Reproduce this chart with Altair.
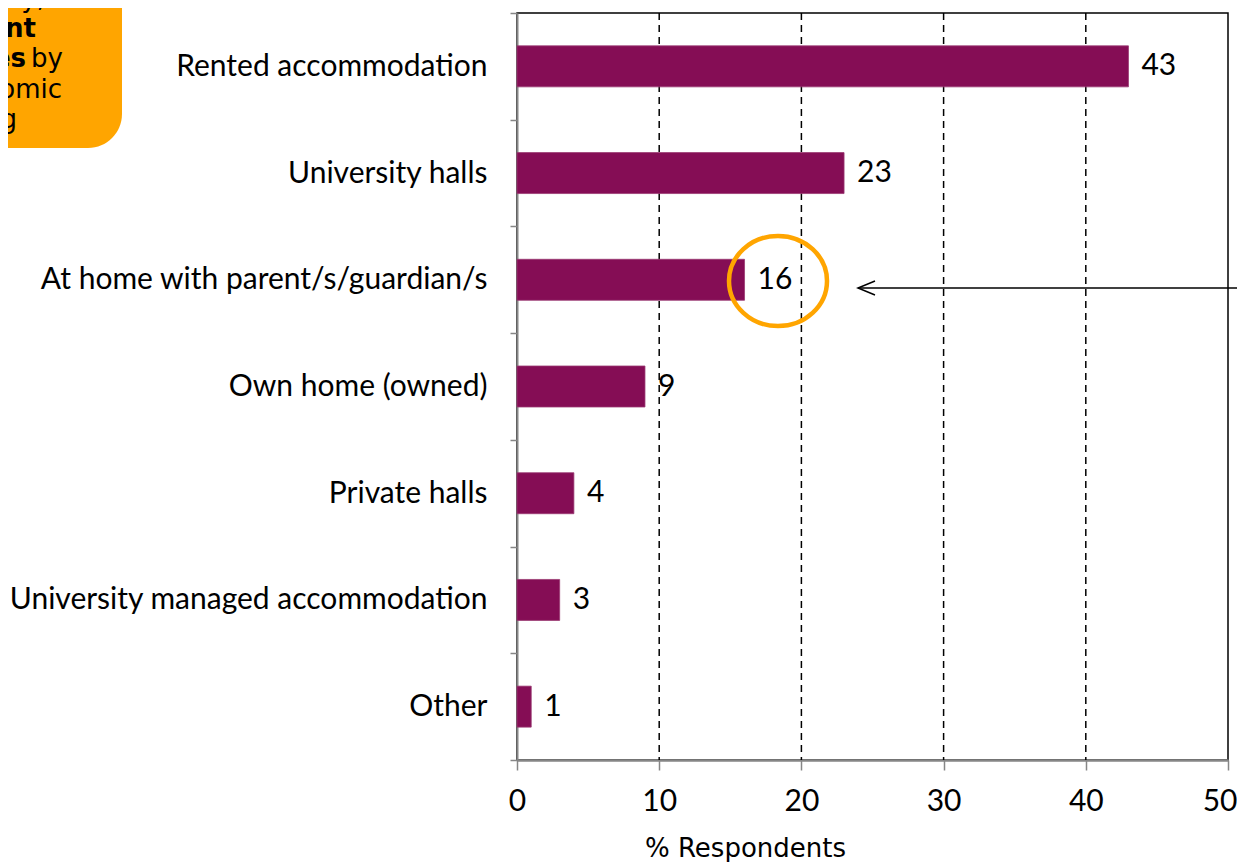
import altair as alt
import pandas as pd

categories = [
    "Rented accommodation",
    "University halls",
    "At home with parent/s/guardian/s",
    "Own home (owned)",
    "Private halls",
    "University managed accommodation",
    "Other",
]
values = [43, 23, 16, 9, 4, 3, 1]
x_ticks = [0, 10, 20, 30, 40, 50]
grid_values = [10, 20, 30, 40]

df = pd.DataFrame({"category": categories, "value": values})
grid_df = pd.DataFrame({"g": grid_values})

BAR = "#850D55"
ORANGE = "#FFA500"
LABEL_FONT = "Lato"
FS = 30

W, H = 711, 747

y_enc = alt.Y(
    "category:N",
    sort=categories,
    scale=alt.Scale(paddingInner=0, paddingOuter=0),
    axis=alt.Axis(
        title=None,
        domainColor="#868686",
        domainWidth=2,
        tickColor="#868686",
        tickWidth=1.5,
        tickSize=7,
        tickBand="extent",
        labelFont=LABEL_FONT,
        labelFontSize=FS,
        labelColor="black",
        labelLimit=700,
        labelPadding=23,
    ),
)

x_scale = alt.Scale(domain=[0, 50], nice=False)

grid = alt.Chart(grid_df).mark_rule(
    color="black", strokeWidth=1.5, strokeDash=[7, 5]
).encode(x=alt.X("g:Q", scale=x_scale))

bars = alt.Chart(df).mark_bar(
    color=BAR, height={"band": 0.384}, stroke="#9A3A72", strokeWidth=0.8
).encode(
    x=alt.X(
        "value:Q",
        scale=x_scale,
        axis=alt.Axis(
            values=x_ticks,
            grid=False,
            domainColor="#868686",
            domainWidth=2.5,
            tickColor="#868686",
            tickWidth=1.5,
            tickSize=10,
            labelFont=LABEL_FONT,
            labelFontSize=FS,
            labelColor="black",
            labelPadding=16,
            labelFlush=False,
            labelAlign={"condition": {"test": "datum.value == 50", "value": "right"}, "value": "center"},
            labelOffset={"condition": {"test": "datum.value == 50", "value": 9}, "value": 0},
            title="% Respondents",
            titleFont="DejaVu Sans",
            titleFontSize=26,
            titleFontWeight="normal",
            titleColor="black",
            titleX=228,
            titleY=96,
            titleAlign="center",
            titleBaseline="alphabetic",
        ),
    ),
    y=y_enc,
)

labels = alt.Chart(df).mark_text(
    align="left", baseline="middle", dx=13, font=LABEL_FONT, fontSize=FS, color="black"
).encode(x=alt.X("value:Q", scale=x_scale), y=alt.Y("category:N", sort=categories), text="value:Q")

one = alt.Data(values=[{"a": 1}])

circle = alt.Chart(one).mark_point(
    shape="M-1,0A1,0.92,0,1,1,1,0A1,0.92,0,1,1,-1,0Z",
    size=9604,
    filled=False,
    stroke=ORANGE,
    strokeWidth=4.5,
    opacity=1,
).encode(x=alt.value(261), y=alt.value(268))

arrow_line = alt.Chart(one).mark_rule(color="black", strokeWidth=1.5).encode(
    x=alt.value(341), x2=alt.value(740), y=alt.value(275)
)
arrow_head = alt.Chart(one).mark_point(
    shape="M1,-0.82L-1,0L1,0.82",
    size=289,
    filled=False,
    stroke="black",
    strokeWidth=1.5,
    opacity=1,
).encode(x=alt.value(349.5), y=alt.value(275))

box = alt.Chart(one).mark_rect(color=ORANGE, cornerRadius=34).encode(
    x=alt.value(-640), x2=alt.value(-395), y=alt.value(-120), y2=alt.value(135)
)

def box_text(txt, xr, yb, bold=False):
    return alt.Chart(one).mark_text(
        text=txt,
        align="right",
        baseline="alphabetic",
        font="DejaVu Sans",
        fontSize=26,
        fontWeight="bold" if bold else "normal",
        color="black",
    ).encode(x=alt.value(xr - 517), y=alt.value(yb - 13))

texts = [
    box_text("ary,", 45, 7),
    box_text("ant", 36, 37, True),
    box_text("es", 26, 67, True),
    box_text("by", 63, 67),
    box_text("omic", 62, 98),
    box_text("g", 17, 128),
]

chart = alt.layer(
    grid, bars, labels, circle, arrow_line, arrow_head, box, *texts
).properties(
    width=W,
    height=H,
    autosize="none",
    padding={"left": 509, "top": 5, "right": 9, "bottom": 102},
).configure_view(stroke="black", strokeWidth=1.5)

chart.save("out.html", embed_options={"renderer": "svg", "actions": False})
